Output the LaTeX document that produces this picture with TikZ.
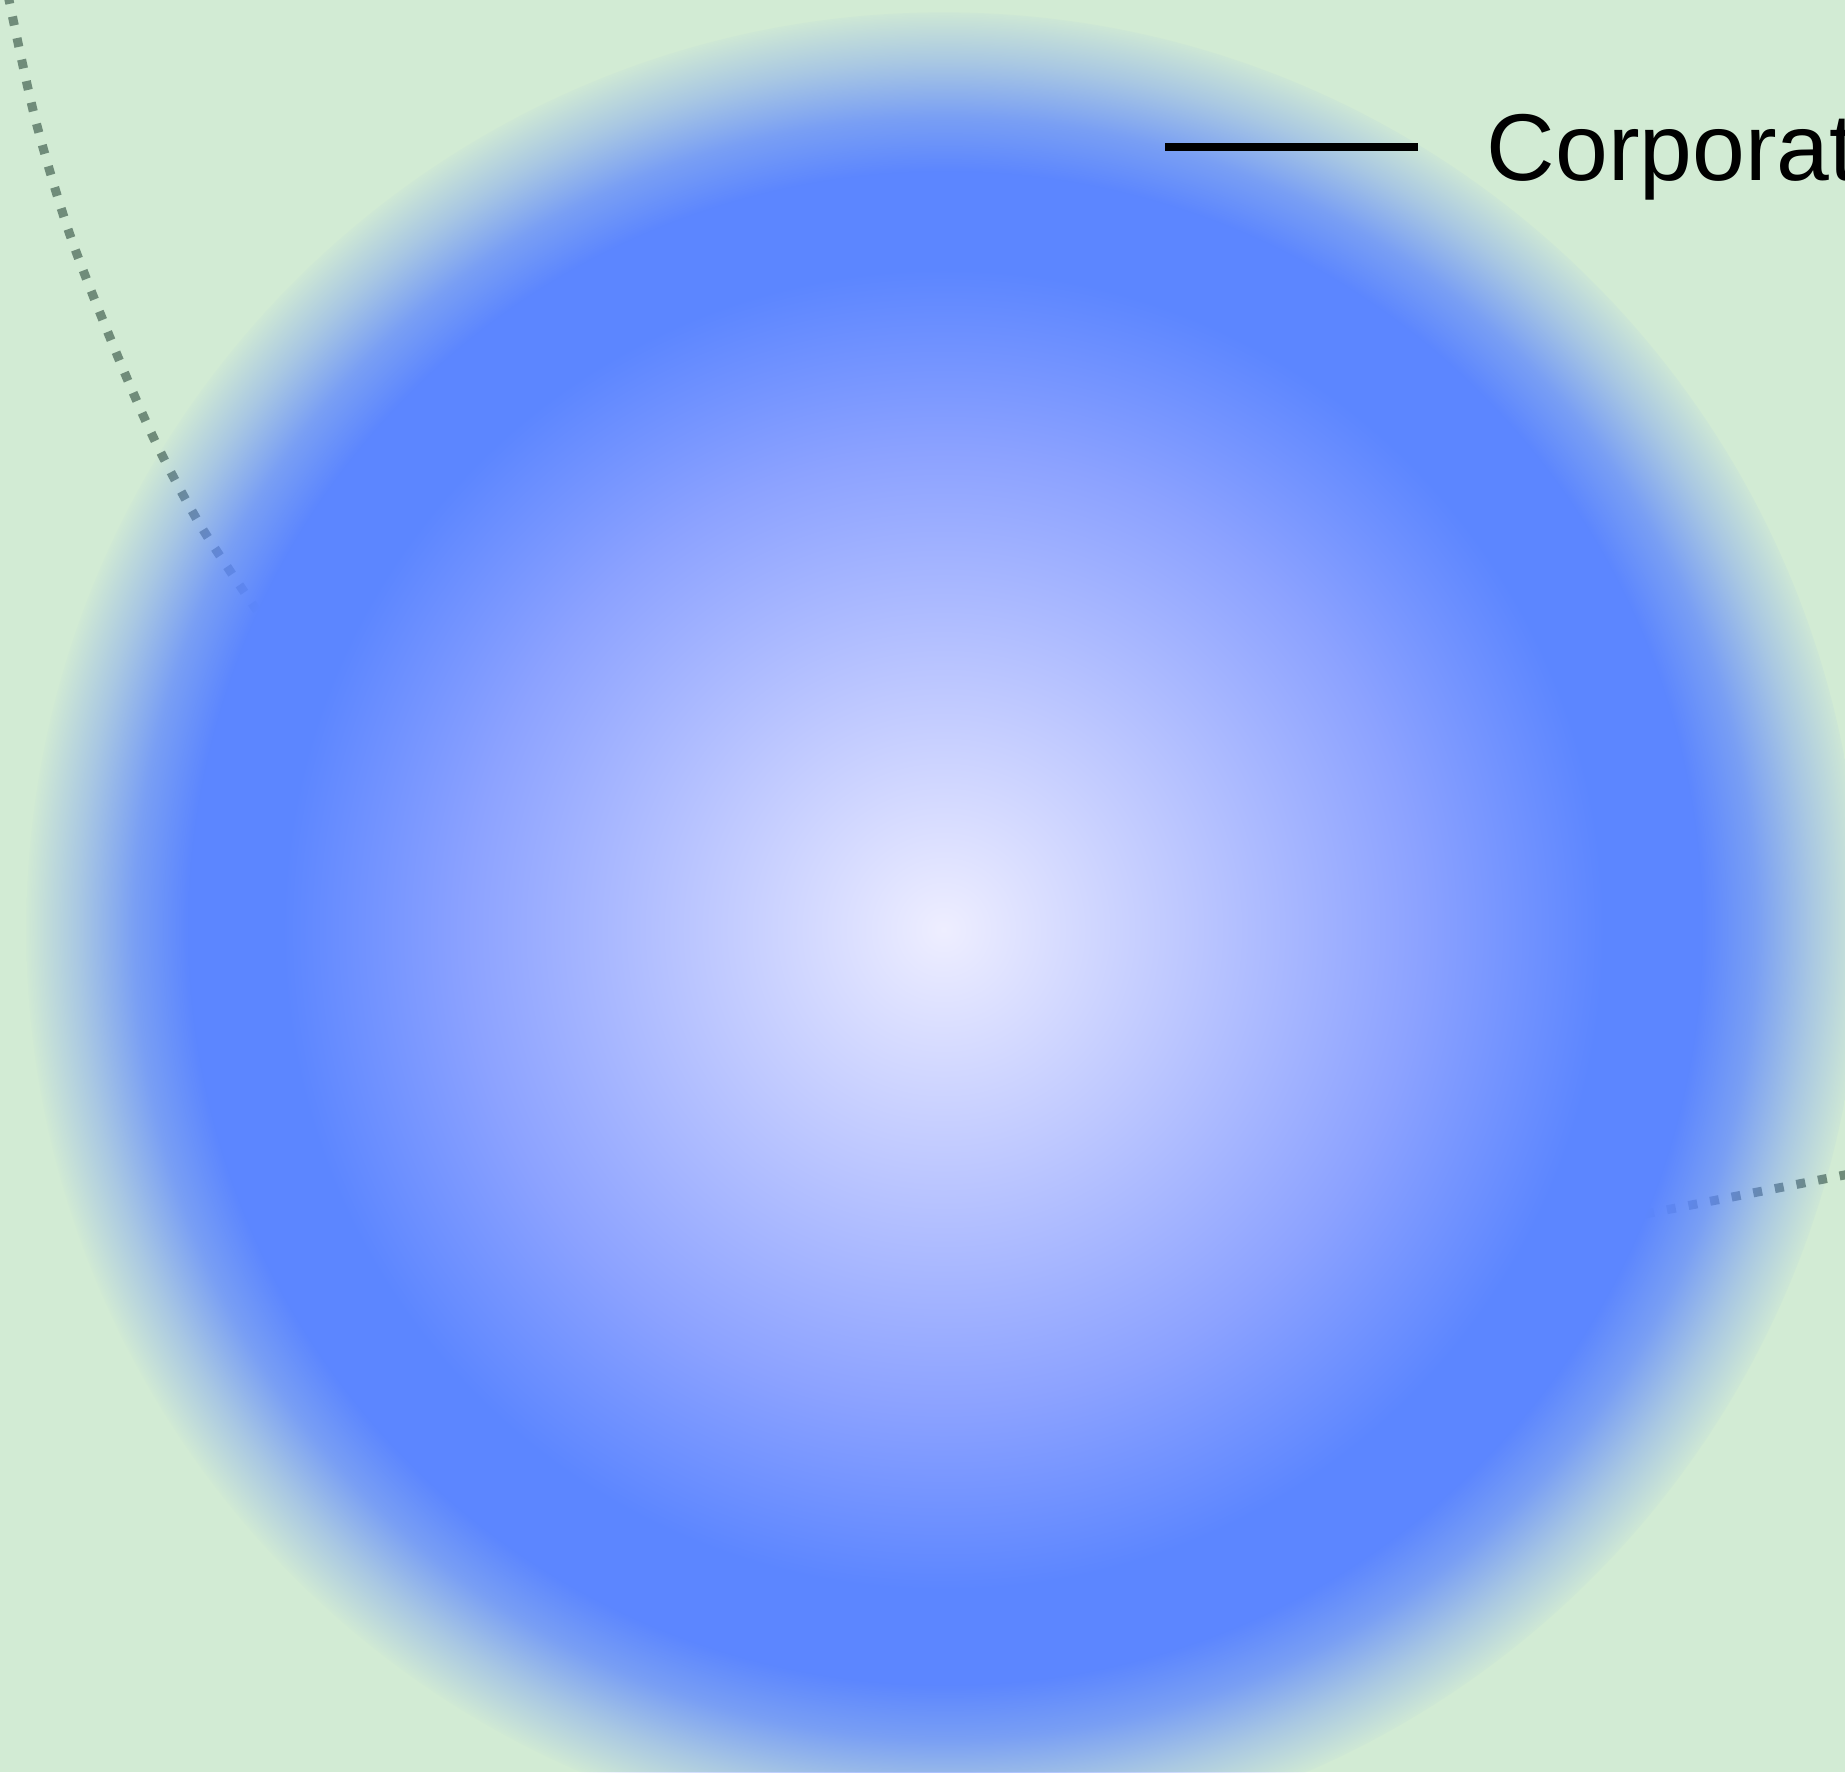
\documentclass[tikz,border=0pt]{standalone}
\usepackage{fontspec}
\setmainfont{Liberation Sans}
\usetikzlibrary{fadings, positioning}

\definecolor{paper}{RGB}{210,235,212}
\definecolor{sphcore}{RGB}{238,238,255}
\definecolor{sphlight}{RGB}{190,200,255}
\definecolor{sphmid}{RGB}{140,162,255}
\definecolor{sphblue}{RGB}{92,134,255}
\definecolor{dotgreen}{RGB}{112,140,122}

% the path's box is the central 50bp of a shading
\pgfdeclareradialshading{glowsphere}{\pgfpoint{0bp}{0bp}}{%
  color(0bp)=(sphcore); color(6.5bp)=(sphlight); color(13bp)=(sphmid);
  color(18bp)=(sphblue); color(50bp)=(sphblue)}
\pgfdeclareradialshading{edgeramp}{\pgfpoint{0bp}{0bp}}{%
  color(0bp)=(pgftransparent!0); color(20.5bp)=(pgftransparent!0);
  color(22bp)=(pgftransparent!25); color(23.5bp)=(pgftransparent!65);
  color(25bp)=(pgftransparent!100); color(50bp)=(pgftransparent!100)}
\pgfdeclarefading{spherefade}{\pgfuseshading{edgeramp}}

\begin{document}
\begin{tikzpicture}[
    orbit/.style={draw=dotgreen, line width=0.09cm, dash pattern=on 0.09cm off 0.13cm},
    leader/.style={draw=black, line width=0.08cm},
    tag/.style={anchor=base west, inner sep=0pt, font=\fontsize{27}{32}\selectfont}
]

% frame
\useasboundingbox (0,0) rectangle (18.45,-17.72);
\clip (0,0) rectangle (18.45,-17.72);
\fill[paper] (0,0) rectangle (18.45,-17.72);

% dotted orbits (behind the sphere)
\draw[orbit] plot[smooth] coordinates {(0.08,0.05) (0.35,-1.18) (0.70,-2.35) (1.18,-3.57) (1.57,-4.45) (2.02,-5.28) (2.60,-6.15)};
\draw[orbit] (18.70,-11.70) -- (16.40,-12.15);

% sphere
\coordinate (core) at (9.45,-9.28);
\shade[shading=glowsphere, path fading=spherefade] (core) circle (9.18);

% label
\coordinate (tickA) at (11.65,-1.47);
\coordinate (tickB) at (14.18,-1.47);
\node[tag] (corp) at (14.86,-1.80) {Corporat};
\draw[leader] (tickA) -- (tickB);

\end{tikzpicture}
\end{document}
